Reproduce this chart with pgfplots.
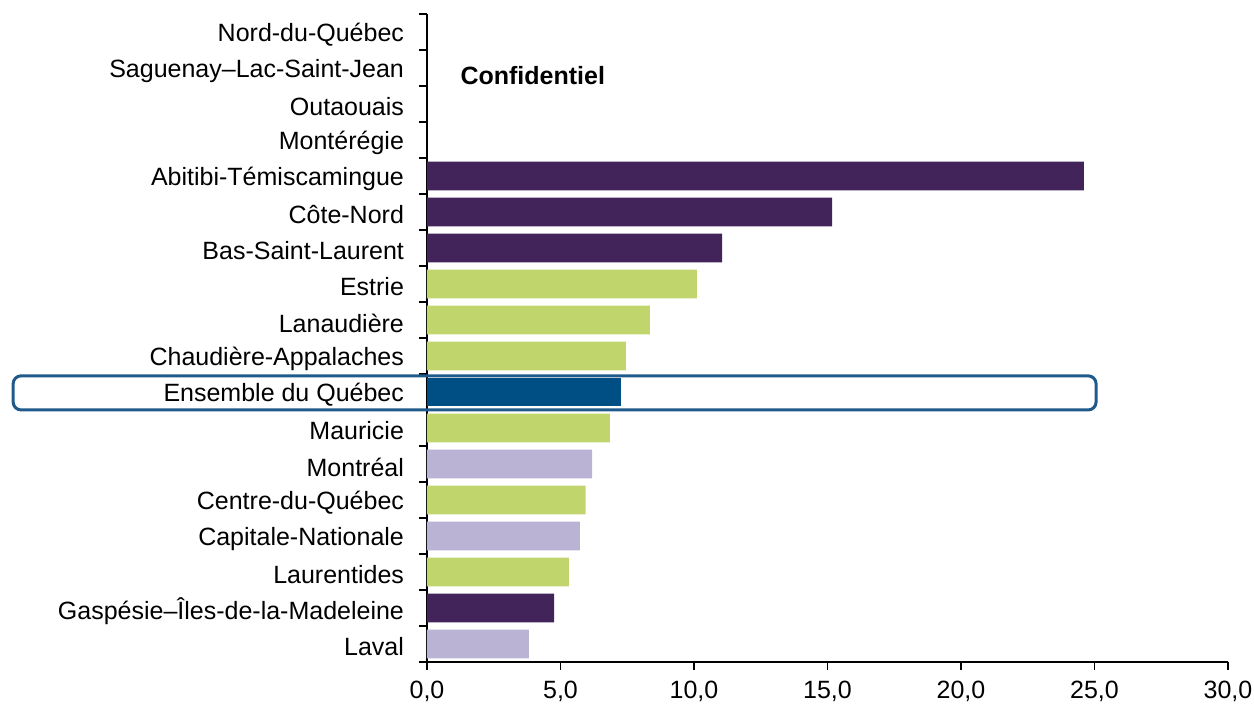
\documentclass[border=0pt]{standalone}
\usepackage{fontspec}
\setmainfont{Liberation Sans}
\usepackage{pgfplots}
\pgfplotsset{compat=1.18}
\definecolor{dpurple}{RGB}{66,36,90}
\definecolor{lgreen}{RGB}{192,213,107}
\definecolor{lav}{RGB}{187,179,211}
\definecolor{dblue}{RGB}{0,79,132}
\definecolor{framec}{RGB}{31,90,138}
\begin{document}
\begin{tikzpicture}[font=\fontsize{12.5}{15}\selectfont]
\useasboundingbox (0,0) rectangle (627pt,353.5pt);
\begin{axis}[
  at={(213.5pt,22.5pt)}, anchor=south west,
  scale only axis, width=400.5pt, height=324pt,
  xmin=0, xmax=30, ymin=-0.5, ymax=17.5,
  axis x line*=bottom, axis y line*=left,
  clip=false,
  tick align=outside,
  xtick={0,5,...,30},
  major tick length=4pt,
  ytick={-0.5,0.5,...,17.5},
  yticklabels={},
  extra y ticks={0,...,17},
  extra y tick labels={Laval,Gaspésie–Îles-de-la-Madeleine,Laurentides,Capitale-Nationale,Centre-du-Québec,Montréal,Mauricie,Ensemble du Québec,Chaudière-Appalaches,Lanaudière,Estrie,Bas-Saint-Laurent,Côte-Nord,Abitibi-Témiscamingue,Montérégie,Outaouais,Saguenay–Lac-Saint-Jean,Nord-du-Québec},
  extra y tick style={major tick length=0pt, yticklabel style={font=\fontsize{12.5}{15}\selectfont, xshift=-8pt, yshift=-1.5pt}},
  xticklabel style={font=\fontsize{12.5}{15}\selectfont, yshift=-2pt, /pgf/number format/.cd, fixed, fixed zerofill, precision=1, use comma, assume math mode=true},
  axis line style={black, line width=0.8pt},
  every tick/.style={black, line width=0.8pt},
]
\addplot[xbar, bar shift=0pt, bar width=0.8, fill=dpurple, draw=none] coordinates {(24.6,13) (15.17,12) (11.05,11) (4.76,1)};
\addplot[xbar, bar shift=0pt, bar width=0.8, fill=lgreen, draw=none] coordinates {(10.11,10) (8.35,9) (7.45,8) (6.85,6) (5.94,4) (5.31,2)};
\addplot[xbar, bar shift=0pt, bar width=0.8, fill=lav, draw=none] coordinates {(6.18,5) (5.73,3) (3.82,0)};
\addplot[xbar, bar shift=0pt, bar width=0.8, fill=dblue, draw=none] coordinates {(7.25,7)};
\draw[framec, line width=1.5pt, rounded corners=4pt] (axis cs:-15.5,6.5) rectangle (axis cs:25.06,7.45);
\node[anchor=west, inner sep=0pt, font=\bfseries\fontsize{12.5}{15}\selectfont] at (axis cs:1.24,15.8) {Confidentiel};
\end{axis}
\end{tikzpicture}
\end{document}
